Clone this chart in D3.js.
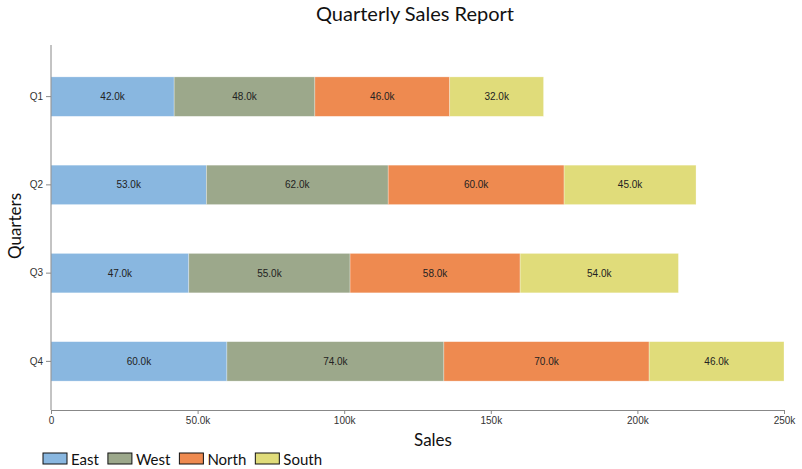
<!DOCTYPE html>
<html>
<head>
<meta charset="utf-8">
<script src="https://cdn.jsdelivr.net/npm/d3@7"></script>
<style>
  body { margin: 0; background: #fff; }
  .tick text { font-family: Arial, "Liberation Sans", sans-serif; font-size: 10px; fill: #333; }
</style>
</head>
<body>
<div id="chart"></div>
<script>
// chart values
const quarters = ["Q1", "Q2", "Q3", "Q4"];
const regions = ["East", "West", "North", "South"];
const east = [42000, 53000, 47000, 60000];
const west = [48000, 62000, 55000, 74000];
const north = [46000, 60000, 58000, 70000];
const south = [32000, 45000, 54000, 46000];
const colors = ["#89b7e0", "#9ca88b", "#ee8a50", "#e0dc7a"];
const xTicks = [0, 50000, 100000, 150000, 200000, 250000];
const xTickLabels = ["0", "50.0k", "100k", "150k", "200k", "250k"];

const width = 802,
  height = 469;
const margin = { top: 45, right: 18, bottom: 59, left: 51 };
const uiFont = "Lato, 'Open Sans', sans-serif";

// build rows for d3.stack
const rows = quarters.map(function (q, i) {
  return { quarter: q, East: east[i], West: west[i], North: north[i], South: south[i] };
});
const series = d3.stack().keys(regions)(rows);

const svg = d3.select("#chart")
  .append("svg")
  .attr("width", width)
  .attr("height", height);

const x = d3.scaleLinear()
  .domain([0, 250000])
  .range([margin.left, width - margin.right]);

const y = d3.scaleBand()
  .domain(quarters)
  .range([margin.top + 1, height - margin.bottom + 2])
  .paddingInner(0.553)
  .paddingOuter(0.35);

const color = d3.scaleOrdinal().domain(regions).range(colors);

// bars
const groups = svg.append("g")
  .selectAll("g")
  .data(series)
  .join("g")
  .attr("fill", function (d) { return color(d.key) });

groups.selectAll("rect")
  .data(function (d) { return d })
  .join("rect")
  .attr("x", function (d) { return x(d[0]) })
  .attr("y", function (d) { return y(d.data.quarter) })
  .attr("width", function (d) { return x(d[1]) - x(d[0]) })
  .attr("height", y.bandwidth())
  .attr("stroke", "#fff")
  .attr("stroke-opacity", 0.5)
  .attr("stroke-width", 0.6);

// value labels in the middle of each segment
groups.selectAll("text")
  .data(function (d) { return d })
  .join("text")
  .attr("x", function (d) { return (x(d[0]) + x(d[1])) / 2 })
  .attr("y", function (d) { return y(d.data.quarter) + y.bandwidth() / 2 })
  .attr("dy", "0.35em")
  .attr("text-anchor", "middle")
  .attr("fill", "#222")
  .style("font-family", "Arial, 'Liberation Sans', sans-serif")
  .style("font-size", "10px")
  .text(function (d) { return d3.format(".3s")(d[1] - d[0]) });

// axes
const xAxis = svg.append("g")
  .attr("transform", `translate(0, ${height - margin.bottom})`)
  .call(d3.axisBottom(x)
    .tickValues(xTicks)
    .tickFormat(function (d, i) { return xTickLabels[i] })
    .tickSize(4)
    .tickSizeOuter(4));

const yAxis = svg.append("g")
  .attr("transform", `translate(${margin.left}, 0)`)
  .call(d3.axisLeft(y).tickSize(5).tickSizeOuter(0));

svg.selectAll(".domain").attr("stroke", "#888");
svg.selectAll(".tick line").attr("stroke", "#888");
yAxis.select(".domain").attr("d", `M0,${margin.top}V${height - margin.bottom}`);

// title and axis titles
svg.append("text")
  .attr("x", 415)
  .attr("y", 21)
  .attr("text-anchor", "middle")
  .style("font-family", uiFont)
  .style("font-size", "20px")
  .attr("fill", "#111")
  .text("Quarterly Sales Report");

svg.append("text")
  .attr("x", 433)
  .attr("y", 446)
  .attr("text-anchor", "middle")
  .style("font-family", uiFont)
  .style("font-size", "17px")
  .attr("fill", "#111")
  .text("Sales");

svg.append("text")
  .attr("transform", "translate(21, 226) rotate(-90)")
  .attr("text-anchor", "middle")
  .style("font-family", uiFont)
  .style("font-size", "17px")
  .attr("fill", "#111")
  .text("Quarters");

// legend
const legend = svg.append("g").attr("transform", "translate(43, 453)");
let lx = 0;
regions.forEach(function (r) {
  legend.append("rect")
    .attr("x", lx)
    .attr("y", 0)
    .attr("width", 24)
    .attr("height", 11)
    .attr("fill", color(r))
    .attr("stroke", "#111")
    .attr("stroke-width", 1);
  const t = legend.append("text")
    .attr("x", lx + 28)
    .attr("y", 12)
    .style("font-family", uiFont)
    .style("font-size", "15px")
    .attr("fill", "#111")
    .text(r);
  lx += 28 + t.node().getComputedTextLength() + 9;
});
</script>
</body>
</html>
